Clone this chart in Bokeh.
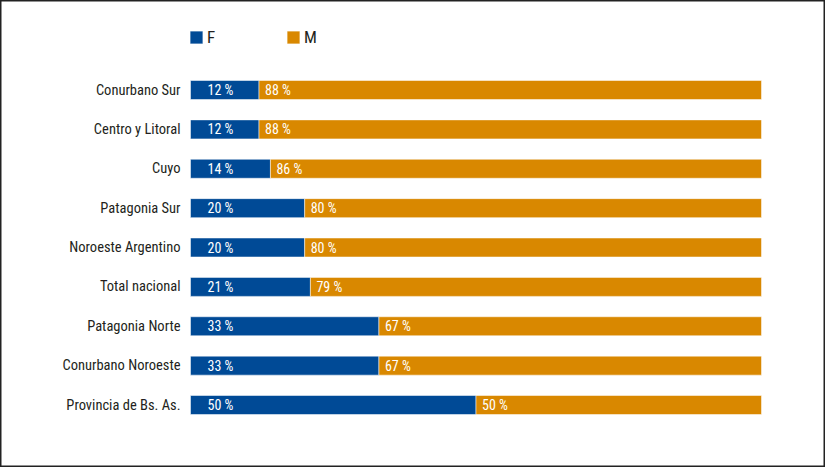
from bokeh.plotting import figure
from bokeh.models import Range1d, Legend, LegendItem, ColumnDataSource
from bokeh.core.properties import value
from bokeh.embed import file_html
from bokeh.resources import INLINE

categories = ["Conurbano Sur", "Centro y Litoral", "Cuyo", "Patagonia Sur",
              "Noroeste Argentino", "Total nacional", "Patagonia Norte",
              "Conurbano Noroeste", "Provincia de Bs. As."]
f_values = [12, 12, 14, 20, 20, 21, 33, 33, 50]
m_values = [88, 88, 86, 80, 80, 79, 67, 67, 50]

BLUE = "#004A96"
ORANGE = "#D98800"
TEXT = "#231F20"
FONT = "Roboto Condensed, DejaVu Sans Condensed, Roboto"

W, H = 825, 467
ppu = 571 / 100.0
x0 = 190
step = 39.375
yc0 = 89.5

pos = list(range(len(categories)))
src = ColumnDataSource(dict(
    y=pos, cat=categories, f=f_values, m=m_values,
    total=[a + b for a, b in zip(f_values, m_values)],
    flab=[f"{v} %" for v in f_values], mlab=[f"{v} %" for v in m_values],
    zero=[0] * len(pos),
))

p = figure(width=W, height=H, output_backend="svg", toolbar_location=None,
           x_axis_type=None, y_axis_type=None,
           x_range=Range1d(-x0 / ppu, (W - x0) / ppu),
           y_range=Range1d((H - yc0) / step, -yc0 / step))
p.min_border = 0
p.outline_line_color = "#222222"
p.outline_line_width = 2
p.background_fill_color = "white"
p.border_fill_color = "white"

bh = 19 / step
rf = p.hbar(y="y", left="zero", right="f", height=bh, source=src,
            fill_color=BLUE, line_color="white", line_alpha=0.5, line_width=1)
rm = p.hbar(y="y", left="f", right="total", height=bh, source=src,
            fill_color=ORANGE, line_color="white", line_alpha=0.5, line_width=1)

p.text(x="zero", y="y", text="cat", source=src, x_offset=-10,
       text_align="right", text_baseline="middle", text_color=TEXT,
       text_font=value(FONT), text_font_size="14.5px")
p.text(x="zero", y="y", text="flab", source=src, x_offset=17,
       text_align="left", text_baseline="middle", text_color="white",
       text_font=value(FONT), text_font_size="14px")
p.text(x="f", y="y", text="mlab", source=src, x_offset=6,
       text_align="left", text_baseline="middle", text_color="white",
       text_font=value(FONT), text_font_size="14px")

gs = 16
legend = Legend(items=[LegendItem(label="F", renderers=[rf]),
                       LegendItem(label="M", renderers=[rm])],
                orientation="horizontal", location=(188, H - 47))
legend.glyph_width = gs
legend.glyph_height = gs
legend.label_height = gs
legend.label_standoff = 3
legend.spacing = 58
legend.padding = 0
legend.margin = 0
legend.border_line_color = None
legend.background_fill_alpha = 0
legend.label_text_font = FONT
legend.label_text_font_size = "17px"
legend.label_text_color = TEXT
p.add_layout(legend, "center")

open("out.html", "w").write(file_html(p, INLINE))
